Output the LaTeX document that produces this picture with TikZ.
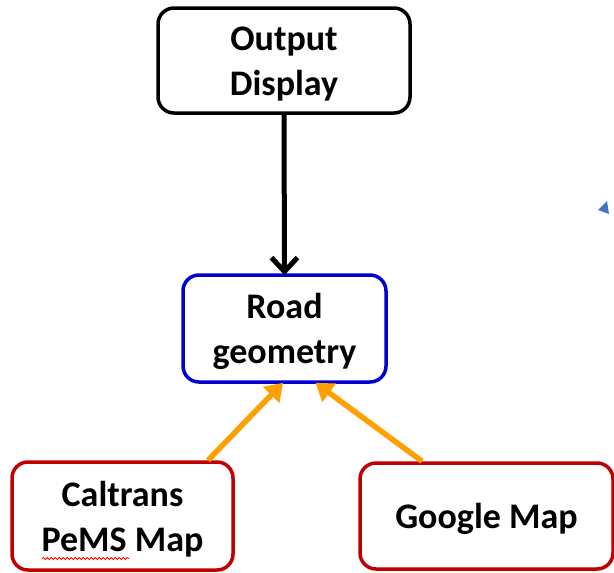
\documentclass[tikz,border=0pt]{standalone}
\usepackage{fontspec}
\setmainfont{Carlito}
\usetikzlibrary{arrows.meta,decorations.pathmorphing}
\definecolor{boxblue}{RGB}{0,0,210}
\definecolor{boxred}{RGB}{192,0,0}
\definecolor{arrorange}{RGB}{255,160,0}
\definecolor{markblue}{RGB}{68,114,196}
\newcommand{\topstrut}{\rule{0pt}{31pt}}
\tikzset{
  box/.style={draw, line width=3.5pt, rounded corners=16pt, fill=white, align=center,
    font=\fontsize{36}{45}\selectfont\bfseries, inner sep=0pt},
  blackarrow/.style={line width=5pt, -{Straight Barb[length=14pt,width=26pt,line width=5pt]}},
  orangearrow/.style={arrorange, line width=5.5pt, -{Triangle[length=17pt,width=22pt]}},
}
\begin{document}
\begin{tikzpicture}[x=1pt,y=-1pt]
\useasboundingbox (0,0) rectangle (614,573);
\node[box, minimum width=252pt, minimum height=105pt] (out) at (284,60.5) {\topstrut Output\\Display};
\node[box, draw=boxblue, minimum width=203pt, minimum height=107pt] (road) at (284.5,328.5) {\topstrut Road\\geometry};
\node[box, draw=boxred, minimum width=221pt, minimum height=108pt] (cal) at (122.5,516) {\topstrut Caltrans\\PeMS Map};
\node[box, draw=boxred, minimum width=253pt, minimum height=106pt] (goog) at (486.5,516) {\topstrut Google Map};
\draw[blackarrow] (out.south) -- ([yshift=-2pt]road.north);
\draw[orangearrow] ([xshift=85.5pt]cal.north) -- ([xshift=-1.5pt,yshift=1pt]road.south);
\draw[orangearrow] ([xshift=-64.5pt]goog.north) -- ([xshift=31pt,yshift=1pt]road.south);
\draw[red, line width=0.8pt, decorate, decoration={snake, amplitude=1pt, segment length=4pt}] (42,558.5) -- (129,558.5);
\fill[markblue] (598,210) -- (607,201) -- (609,214) -- cycle;
\end{tikzpicture}
\end{document}
